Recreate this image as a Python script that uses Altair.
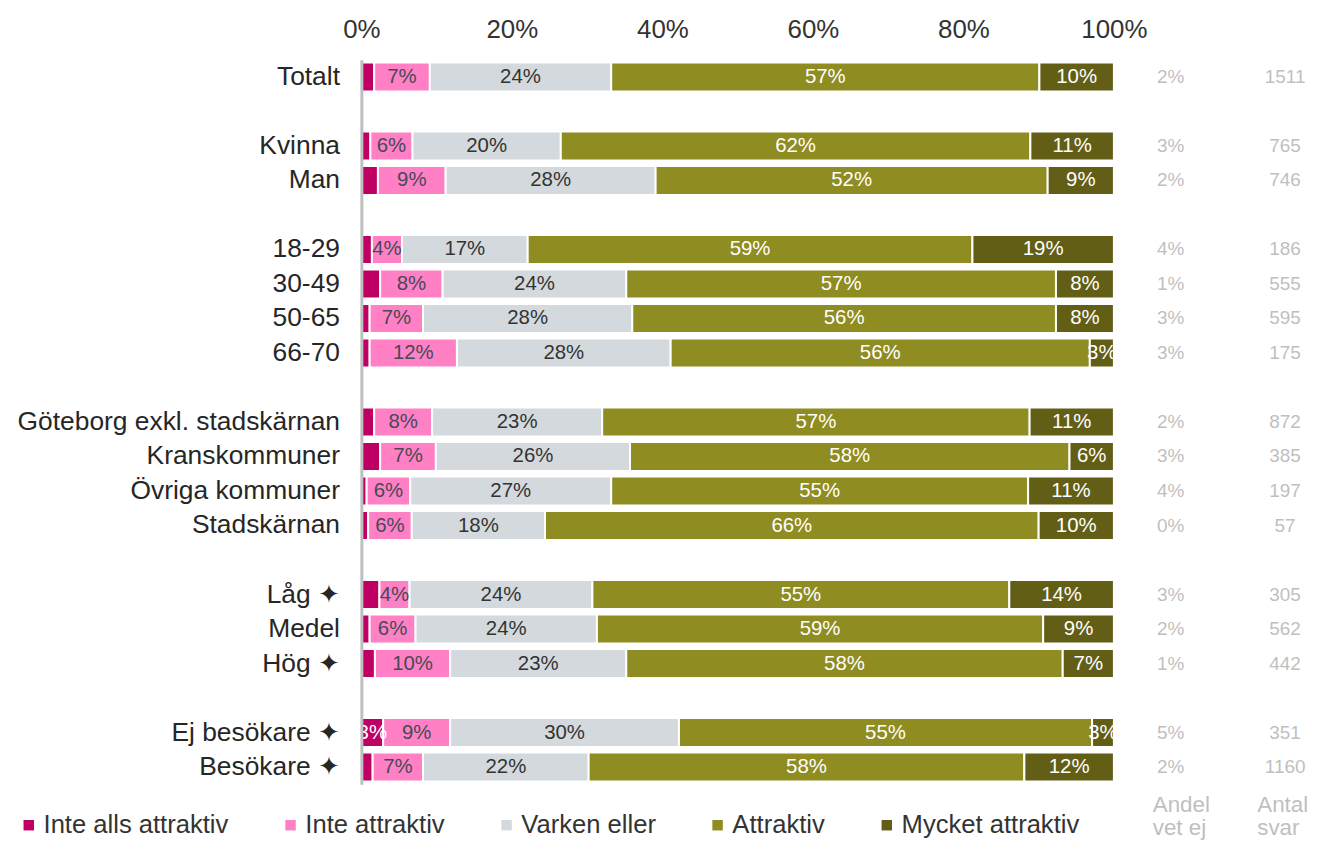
import altair as alt
import pandas as pd

FONT = "Liberation Sans, Arial, sans-serif"

rows = ["Totalt", " ", "Kvinna", "Man", "  ", "18-29", "30-49", "50-65", "66-70", "   ",
        "Göteborg exkl. stadskärnan", "Kranskommuner", "Övriga kommuner", "Stadskärnan", "    ",
        "Låg ✦", "Medel", "Hög ✦", "     ", "Ej besökare ✦", "Besökare ✦"]
groups = [r for r in rows if r.strip()]

categories = ["Inte alls attraktiv", "Inte attraktiv", "Varken eller", "Attraktiv", "Mycket attraktiv"]
colors = ["#BE0064", "#FF80C5", "#D3D9DC", "#8F8C21", "#625E16"]

inte_alls = [1.7, 1.2, 2.2, 1.4, 2.5, 1.1, 1.1, 1.7, 2.5, 0.7, 0.9, 2.4, 1.1, 1.8, 2.9, 1.5]
inte = [7.4, 5.6, 9.0, 4.0, 8.3, 7.1, 11.6, 7.7, 7.4, 5.8, 5.8, 4.0, 6.1, 10.0, 8.9, 6.7]
varken = [24.1, 19.7, 27.9, 16.7, 24.4, 27.8, 28.4, 22.6, 25.8, 26.7, 17.7, 24.3, 24.1, 23.4, 30.4, 22.0]
attraktiv = [56.9, 62.4, 52.1, 59.1, 57.1, 56.3, 55.7, 56.8, 58.4, 55.4, 65.6, 55.4, 59.3, 58.0, 54.9, 57.9]
mycket = [9.9, 11.1, 8.8, 18.8, 7.7, 7.7, 3.2, 11.2, 5.9, 11.4, 10.0, 13.9, 9.4, 6.8, 2.9, 11.9]

vet_ej = [2, 3, 2, 4, 1, 3, 3, 2, 3, 4, 0, 3, 2, 1, 5, 2]
antal = [1511, 765, 746, 186, 555, 595, 175, 872, 385, 197, 57, 305, 562, 442, 351, 1160]

series = [inte_alls, inte, varken, attraktiv, mycket]
recs = []
for ci, (cat, vals) in enumerate(zip(categories, series)):
    for r, v in zip(groups, vals):
        recs.append({"row": r, "cat": cat, "order": ci, "value": v})
df = pd.DataFrame(recs)
side = pd.DataFrame({"row": groups, "vet": vet_ej, "antal": antal})
hdr = pd.DataFrame({"h": ["Andel\nvet ej", "Antal\nsvar"]})

yenc = alt.Y("row:N",
             scale=alt.Scale(domain=rows, paddingInner=0.16, paddingOuter=0.08),
             axis=alt.Axis(title=None, ticks=False, domainColor="#BFBFBF", domainWidth=3,
                           labelFontSize=26.5, labelColor="#262626", labelFont=FONT,
                           labelPadding=22, labelLimit=450, zindex=1),
             title=None)

stacked = (alt.Chart(df)
           .transform_stack(stack="value", as_=["x0", "x1"], groupby=["row"],
                            sort=[alt.SortField("order")])
           .transform_calculate(mid="(datum.x0 + datum.x1) / 2",
                                lbl="format(datum.value, '.0f') + '%'",
                                lc="datum.cat == 'Inte attraktiv' ? '#454A55' : (datum.cat == 'Varken eller' ? '#333333' : '#FFFFFF')"))

bars = stacked.mark_bar(stroke="white", strokeWidth=2).encode(
    y=yenc,
    x=alt.X("x0:Q", scale=alt.Scale(domain=[0, 100], nice=False),
            axis=alt.Axis(orient="top", values=[0, 20, 40, 60, 80, 100],
                          labelExpr="datum.value + '%'", ticks=False, domain=False, grid=False,
                          labelFontSize=26, labelColor="#333333", labelFont=FONT,
                          labelPadding=17, labelFlush=False, title=None),
            title=None),
    x2="x1:Q",
    color=alt.Color("cat:N", scale=alt.Scale(domain=categories, range=colors),
                    legend=alt.Legend(title=None, orient="none", direction="horizontal",
                                      legendX=-347, legendY=756, symbolType="square",
                                      symbolSize=110, symbolStrokeWidth=0, labelFontSize=25.7,
                                      labelFont=FONT, labelColor="#333333", labelOffset=2,
                                      columnPadding=49, labelLimit=450)),
)

labels = stacked.transform_filter("datum.value >= 2.8").mark_text(
    fontSize=20.5, font=FONT).encode(
    y=alt.Y("row:N"),
    x=alt.X("mid:Q"),
    text="lbl:N",
    color=alt.Color("lc:N", scale=None),
)

vet_txt = alt.Chart(side).transform_calculate(t="datum.vet + '%'").mark_text(
    fontSize=19, font=FONT, color="#BFBFBF", align="center").encode(
    y=alt.Y("row:N"), x=alt.value(813), text="t:N")

antal_txt = alt.Chart(side).mark_text(
    fontSize=19, font=FONT, color="#BFBFBF", align="center").encode(
    y=alt.Y("row:N"), x=alt.value(928), text="antal:N")

hdr1 = alt.Chart(hdr).transform_filter("datum.h == 'Andel\\nvet ej'").mark_text(
    fontSize=22.5, font=FONT, color="#BFBFBF", align="left", baseline="top",
    lineBreak="\n", lineHeight=23).encode(x=alt.value(795), y=alt.value(738), text="h:N")
hdr2 = alt.Chart(hdr).transform_filter("datum.h == 'Antal\\nsvar'").mark_text(
    fontSize=22.5, font=FONT, color="#BFBFBF", align="left", baseline="top",
    lineBreak="\n", lineHeight=23).encode(x=alt.value(900), y=alt.value(738), text="h:N")

chart = (alt.layer(bars, labels, vet_txt, antal_txt, hdr1, hdr2)
         .properties(width=756, height=728,
                     padding={"left": 8, "top": 7, "right": 0, "bottom": 0})
         .configure_view(stroke=None))

chart.save("out.html", embed_options={"renderer": "svg", "actions": False})
